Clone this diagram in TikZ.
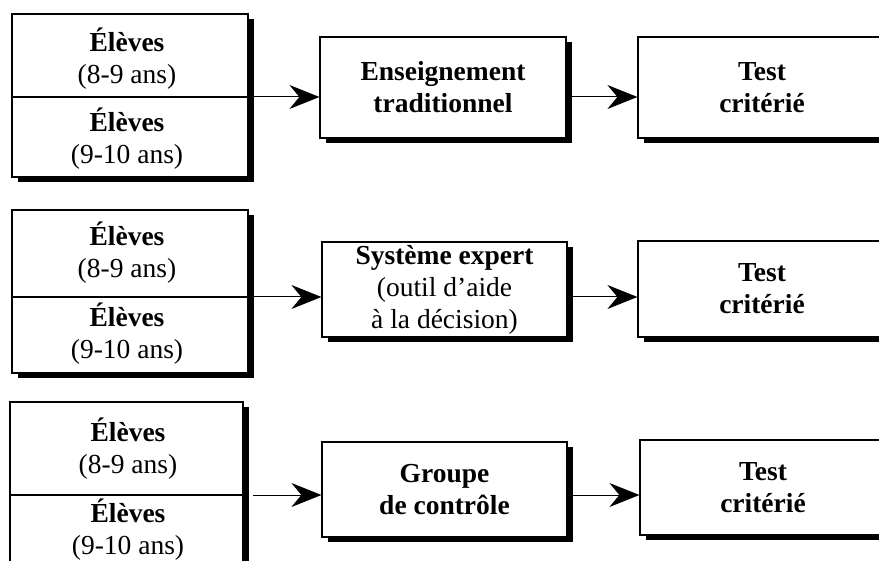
\documentclass[tikz,border=0pt]{standalone}
\usepackage{fontspec}
\setmainfont{Liberation Serif}
\usetikzlibrary{positioning}
\usetikzlibrary{shadows}
\usetikzlibrary{arrows.meta}
\usetikzlibrary{math}
\tikzset{boite/.style={draw=black, line width=1.2pt, fill=white, inner sep=0pt, drop shadow={shadow xshift=6pt, shadow yshift=-5pt, opacity=1, fill=black}},
texte/.style={align=center, inner sep=0pt, font=\fontsize{27.5}{32}\selectfont},
fleche/.style={-{Stealth[length=30pt,width=24pt,inset=10pt]}, line width=1pt}}

\begin{document}
\begin{tikzpicture}[x=1pt,y=-1pt]
	\tikzmath{\ya=97; \yb=297; \yc=495;}
	\useasboundingbox (0,0) rectangle (879,561);
	\clip (0,0) rectangle (879,561);

	% premiere rangee
	\node[boite, minimum width=236pt, minimum height=163pt] (eleves1) at (130,95.5) {};
	\coordinate (sep1) at (248,\ya);
	\draw[line width=1.2pt] (eleves1.west |- sep1) -- (sep1);
	\node[texte] (eleves1a) at (127,58.5) {\textbf{Élèves}\\(8-9 ans)};
	\node[texte] (eleves1b) at (127,138.5) {\textbf{Élèves}\\(9-10 ans)};
	\node[boite, texte, minimum width=246pt, minimum height=101pt] (methode1) at (443,87.5) {\textbf{Enseignement}\\\textbf{traditionnel}};
	\node[boite, texte, minimum width=248pt, minimum height=101pt] (test1) at (762,87.5) {\textbf{Test}\\\textbf{critérié}};
	\draw[fleche] (sep1) -- (methode1.west |- sep1);
	\draw[fleche] (methode1.east |- sep1) -- (test1.west |- sep1);

	% deuxieme rangee
	\node[boite, minimum width=236pt, minimum height=163pt] (eleves2) at (130,291.5) {};
	\coordinate (sep2) at (248,\yb);
	\draw[line width=1.2pt] (eleves2.west |- sep2) -- (sep2);
	\node[texte] (eleves2a) at (127,252.5) {\textbf{Élèves}\\(8-9 ans)};
	\node[texte] (eleves2b) at (127,334) {\textbf{Élèves}\\(9-10 ans)};
	\node[boite, texte, minimum width=245pt, minimum height=95pt] (methode2) at (444.5,289.5) {\textbf{Système expert}\\(outil d'aide\\ à la décision)};
	\node[boite, texte, minimum width=248pt, minimum height=96pt] (test2) at (762,289) {\textbf{Test}\\\textbf{critérié}};
	\draw[fleche] (sep2) -- (methode2.west |- sep2);
	\draw[fleche] (methode2.east |- sep2) -- (test2.west |- sep2);

	% troisieme rangee
	\node[boite, minimum width=233pt, minimum height=188pt] (eleves3) at (126.5,496) {};
	\coordinate (sep3) at (243,\yc);
	\draw[line width=1.2pt] (eleves3.west |- sep3) -- (sep3);
	\node[texte] (eleves3a) at (128,449) {\textbf{Élèves}\\(8-9 ans)};
	\node[texte] (eleves3b) at (128,530) {\textbf{Élèves}\\(9-10 ans)};
	\node[boite, texte, minimum width=245pt, minimum height=95pt] (methode3) at (444.5,489.5) {\textbf{Groupe}\\\textbf{de contrôle}};
	\node[boite, texte, minimum width=246pt, minimum height=95pt] (test3) at (763,487.5) {\textbf{Test}\\\textbf{critérié}};
	\draw[fleche] ([xshift=10pt]sep3) -- (methode3.west |- sep3);
	\draw[fleche] (methode3.east |- sep3) -- (test3.west |- sep3);
\end{tikzpicture}
\end{document}
